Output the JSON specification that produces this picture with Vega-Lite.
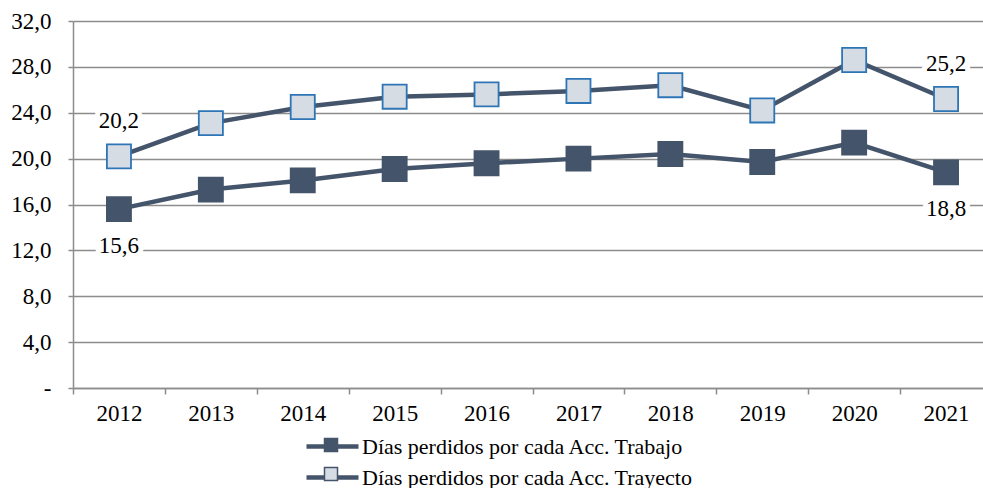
{
  "$schema": "https://vega.github.io/schema/vega-lite/v6.json",
  "width": 919,
  "height": 367,
  "autosize": "none",
  "padding": {"left": 73, "top": 21, "right": -9, "bottom": 100},
  "background": "white",
  "config": {
    "locale": {"number": {"decimal": ",", "thousands": ".", "grouping": [3], "currency": ["", " €"]}},
    "font": "Liberation Serif",
    "view": {"stroke": null},
    "axis": {"labelFont": "Liberation Serif", "labelFontSize": 23, "labelColor": "#000000", "domainColor": "#8C8C8C", "tickColor": "#8C8C8C", "gridColor": "#8C8C8C", "domainWidth": 1.5, "tickWidth": 1.5, "gridWidth": 1.5}
  },
  "data": {
    "values": [
      {"year": "2012", "series": "Días perdidos por cada Acc. Trabajo", "value": 15.6},
      {"year": "2013", "series": "Días perdidos por cada Acc. Trabajo", "value": 17.3},
      {"year": "2014", "series": "Días perdidos por cada Acc. Trabajo", "value": 18.1},
      {"year": "2015", "series": "Días perdidos por cada Acc. Trabajo", "value": 19.1},
      {"year": "2016", "series": "Días perdidos por cada Acc. Trabajo", "value": 19.6},
      {"year": "2017", "series": "Días perdidos por cada Acc. Trabajo", "value": 20.0},
      {"year": "2018", "series": "Días perdidos por cada Acc. Trabajo", "value": 20.4},
      {"year": "2019", "series": "Días perdidos por cada Acc. Trabajo", "value": 19.7},
      {"year": "2020", "series": "Días perdidos por cada Acc. Trabajo", "value": 21.4},
      {"year": "2021", "series": "Días perdidos por cada Acc. Trabajo", "value": 18.8},
      {"year": "2012", "series": "Días perdidos por cada Acc. Trayecto", "value": 20.2},
      {"year": "2013", "series": "Días perdidos por cada Acc. Trayecto", "value": 23.1},
      {"year": "2014", "series": "Días perdidos por cada Acc. Trayecto", "value": 24.5},
      {"year": "2015", "series": "Días perdidos por cada Acc. Trayecto", "value": 25.4},
      {"year": "2016", "series": "Días perdidos por cada Acc. Trayecto", "value": 25.6},
      {"year": "2017", "series": "Días perdidos por cada Acc. Trayecto", "value": 25.9},
      {"year": "2018", "series": "Días perdidos por cada Acc. Trayecto", "value": 26.4},
      {"year": "2019", "series": "Días perdidos por cada Acc. Trayecto", "value": 24.2},
      {"year": "2020", "series": "Días perdidos por cada Acc. Trayecto", "value": 28.6},
      {"year": "2021", "series": "Días perdidos por cada Acc. Trayecto", "value": 25.2}
    ]
  },
  "encoding": {
    "x": {
      "field": "year", "type": "ordinal", "bandPosition": 0.5,
      "scale": {"type": "band", "paddingInner": 0, "paddingOuter": 0},
      "axis": {"title": null, "labelAngle": 0, "tickBand": "extent", "tickSize": 6, "labelPadding": 8, "grid": false}
    },
    "y": {
      "field": "value", "type": "quantitative",
      "scale": {"domain": [0, 32], "nice": false, "zero": true},
      "axis": {"title": null, "values": [0, 4, 8, 12, 16, 20, 24, 28, 32], "format": ".1f", "labelExpr": "datum.value == 0 ? '-\u00a0\u00a0' : datum.label", "tickSize": 5, "labelPadding": 17, "grid": true}
    }
  },
  "layer": [
    {
      "mark": {"type": "line", "strokeWidth": 4.5},
      "encoding": {
        "stroke": {
          "field": "series", "type": "nominal",
          "scale": {"range": ["#44546A", "#44546A"]},
          "legend": {"title": null, "orient": "none", "legendX": 247, "legendY": 413, "direction": "vertical", "symbolType": "M-2.6,0H2.6", "symbolSize": 400, "symbolStrokeWidth": 4.5, "labelFont": "Liberation Serif", "labelFontSize": 22, "labelColor": "#000000", "labelOffset": 17, "labelLimit": 600, "rowPadding": 7}
        }
      }
    },
    {
      "mark": {"type": "point", "shape": "square", "filled": true, "size": 580, "strokeWidth": 1.8, "opacity": 1},
      "encoding": {
        "fill": {
          "field": "series", "type": "nominal",
          "scale": {"domain": ["Días perdidos por cada Acc. Trabajo", "Días perdidos por cada Acc. Trayecto"], "range": ["#44546A", "#D6DCE4"]},
          "legend": {"title": null, "orient": "none", "legendX": 247, "legendY": 413, "direction": "vertical", "symbolType": "M-0.65,-0.65H0.65V0.65H-0.65Z", "symbolSize": 400, "symbolStrokeWidth": 1.5, "symbolOpacity": 1, "labelFont": "Liberation Serif", "labelFontSize": 22, "labelOpacity": 0, "labelOffset": 17, "labelLimit": 600, "rowPadding": 7,
            "encode": {"symbols": {"update": {"stroke": {"signal": "datum.value === 'Días perdidos por cada Acc. Trayecto' ? '#2E75B6' : '#44546A'"}}}}}
        },
        "stroke": {"condition": {"test": "datum.series === 'Días perdidos por cada Acc. Trayecto'", "value": "#2E75B6"}, "value": "#44546A"}
      }
    },
    {
      "transform": [{"filter": "(datum.year == '2012' || datum.year == '2021') && datum.series == 'Días perdidos por cada Acc. Trayecto'"}],
      "mark": {"type": "text", "dy": -35, "fontSize": 23, "font": "Liberation Serif", "stroke": "white", "strokeWidth": 10, "fill": "white"},
      "encoding": {"text": {"field": "value", "type": "quantitative", "format": ".1f"}}
    },
    {
      "transform": [{"filter": "(datum.year == '2012' || datum.year == '2021') && datum.series == 'Días perdidos por cada Acc. Trayecto'"}],
      "mark": {"type": "text", "dy": -35, "fontSize": 23, "font": "Liberation Serif", "fill": "#000000"},
      "encoding": {"text": {"field": "value", "type": "quantitative", "format": ".1f"}}
    },
    {
      "transform": [{"filter": "(datum.year == '2012' || datum.year == '2021') && datum.series == 'Días perdidos por cada Acc. Trabajo'"}],
      "mark": {"type": "text", "dy": 37, "fontSize": 23, "font": "Liberation Serif", "stroke": "white", "strokeWidth": 10, "fill": "white"},
      "encoding": {"text": {"field": "value", "type": "quantitative", "format": ".1f"}}
    },
    {
      "transform": [{"filter": "(datum.year == '2012' || datum.year == '2021') && datum.series == 'Días perdidos por cada Acc. Trabajo'"}],
      "mark": {"type": "text", "dy": 37, "fontSize": 23, "font": "Liberation Serif", "fill": "#000000"},
      "encoding": {"text": {"field": "value", "type": "quantitative", "format": ".1f"}}
    }
  ]
}
